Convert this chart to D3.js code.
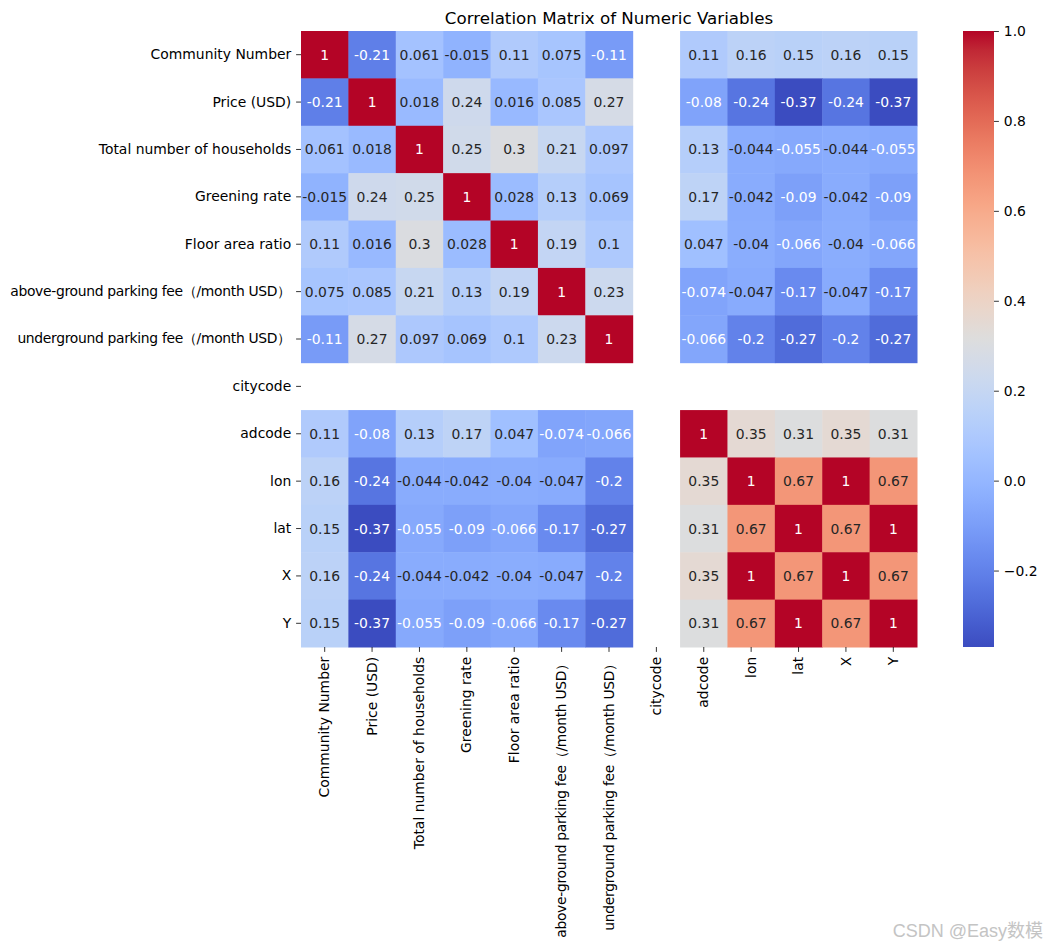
<!DOCTYPE html>
<html>
<head>
<meta charset="utf-8">
<script src="https://cdn.jsdelivr.net/npm/d3@7"></script>
<style>
  body { margin: 0; background: #fff; }
  svg { display: block; font-family: "DejaVu Sans", sans-serif; }
</style>
</head>
<body>
<svg id="chart" width="1047" height="948"></svg>
<script>
const variables = [
  "Community Number", "Price (USD)", "Total number of households", "Greening rate",
  "Floor area ratio", "above-ground parking fee（/month USD）", "underground parking fee（/month USD）",
  "citycode", "adcode", "lon", "lat", "X", "Y"
];
const N = null;
const correlations = [
  [1, -0.21, 0.061, -0.015, 0.11, 0.075, -0.11, N, 0.11, 0.16, 0.15, 0.16, 0.15],
  [-0.21, 1, 0.018, 0.24, 0.016, 0.085, 0.27, N, -0.08, -0.24, -0.37, -0.24, -0.37],
  [0.061, 0.018, 1, 0.25, 0.3, 0.21, 0.097, N, 0.13, -0.044, -0.055, -0.044, -0.055],
  [-0.015, 0.24, 0.25, 1, 0.028, 0.13, 0.069, N, 0.17, -0.042, -0.09, -0.042, -0.09],
  [0.11, 0.016, 0.3, 0.028, 1, 0.19, 0.1, N, 0.047, -0.04, -0.066, -0.04, -0.066],
  [0.075, 0.085, 0.21, 0.13, 0.19, 1, 0.23, N, -0.074, -0.047, -0.17, -0.047, -0.17],
  [-0.11, 0.27, 0.097, 0.069, 0.1, 0.23, 1, N, -0.066, -0.2, -0.27, -0.2, -0.27],
  [N, N, N, N, N, N, N, N, N, N, N, N, N],
  [0.11, -0.08, 0.13, 0.17, 0.047, -0.074, -0.066, N, 1, 0.35, 0.31, 0.35, 0.31],
  [0.16, -0.24, -0.044, -0.042, -0.04, -0.047, -0.2, N, 0.35, 1, 0.67, 1, 0.67],
  [0.15, -0.37, -0.055, -0.09, -0.066, -0.17, -0.27, N, 0.31, 0.67, 1, 0.67, 1],
  [0.16, -0.24, -0.044, -0.042, -0.04, -0.047, -0.2, N, 0.35, 1, 0.67, 1, 0.67],
  [0.15, -0.37, -0.055, -0.09, -0.066, -0.17, -0.27, N, 0.31, 0.67, 1, 0.67, 1]
];
const colorbarTicks = [-0.2, 0.0, 0.2, 0.4, 0.6, 0.8, 1.0];
const vmin = -0.37, vmax = 1;
const titleText = "Correlation Matrix of Numeric Variables";

// matplotlib coolwarm (Moreland) control points
const coolwarmStops = [
  [59,76,192],[68,90,204],[77,104,215],[87,117,225],[98,130,234],[108,142,241],[119,154,247],
  [130,165,251],[141,176,254],[152,185,255],[163,194,255],[174,201,253],[184,208,249],
  [194,213,244],[204,217,238],[213,219,230],[221,221,221],[229,216,209],[236,211,197],
  [241,204,184],[245,196,172],[247,187,159],[247,177,147],[247,166,134],[244,154,123],
  [241,141,112],[236,127,101],[229,112,90],[222,96,80],[213,80,71],[203,62,62],
  [192,40,53],[180,4,38]
].map(c => d3.rgb(c[0], c[1], c[2]).formatHex());
const coolwarm = d3.piecewise(d3.interpolateRgb, coolwarmStops);
const color = d3.scaleSequential(coolwarm).domain([vmin, vmax]).clamp(true);

const svg = d3.select("#chart");
const plotLeft = 301, plotTop = 31, plotSize = 616;
const x = d3.scaleBand().domain(d3.range(variables.length)).range([plotLeft, plotLeft + plotSize]);
const y = d3.scaleBand().domain(d3.range(variables.length)).range([plotTop, plotTop + plotSize]);

function luminance(c) {
  const rgb = d3.rgb(c);
  const f = v => { v /= 255; return v <= 0.03928 ? v / 12.92 : Math.pow((v + 0.055) / 1.055, 2.4); };
  return 0.2126 * f(rgb.r) + 0.7152 * f(rgb.g) + 0.0722 * f(rgb.b);
}

const cells = [];
correlations.forEach((row, i) => row.forEach((v, j) => { if (v !== null) cells.push({i, j, v}); }));

svg.append("g").selectAll("rect").data(cells).join("rect")
  .attr("x", d => x(d.j)).attr("y", d => y(d.i))
  .attr("width", x.bandwidth() + 0.5).attr("height", y.bandwidth() + 0.5)
  .attr("fill", d => color(d.v));

svg.append("g").selectAll("text").data(cells).join("text")
  .attr("x", d => x(d.j) + x.bandwidth() / 2)
  .attr("y", d => y(d.i) + y.bandwidth() / 2)
  .attr("dy", "0.36em")
  .attr("text-anchor", "middle")
  .attr("font-size", "13.9px")
  .attr("fill", d => luminance(color(d.v)) > 0.408 ? "#262626" : "#ffffff")
  .text(d => String(d.v));

// labels with full-width parentheses: tighten spacing so they keep the reference width
function tightenWide(sel) {
  sel.each(function(i) {
    const s = variables[i];
    if (!/[（）]/.test(s)) return;
    const natural = this.getComputedTextLength();
    d3.select(this).attr("textLength", natural - 11).attr("lengthAdjust", "spacing");
  });
}

// axes
const yAxis = d3.axisLeft(y).tickSize(4.9).tickPadding(4.9).tickFormat(i => variables[i]);
const gy = svg.append("g").attr("transform", `translate(${plotLeft},0)`).call(yAxis);
gy.select(".domain").remove();
gy.selectAll("text").attr("font-size", "13.9px").attr("fill", "#000").attr("font-family", "DejaVu Sans, sans-serif");
gy.selectAll("line").attr("stroke", "#000").attr("stroke-width", 0.8);
tightenWide(gy.selectAll(".tick text"));

const xAxis = d3.axisBottom(x).tickSize(4.9).tickPadding(4.9).tickFormat(i => variables[i]);
const gx = svg.append("g").attr("transform", `translate(0,${plotTop + plotSize})`).call(xAxis);
gx.select(".domain").remove();
gx.selectAll("line").attr("stroke", "#000").attr("stroke-width", 0.8);
gx.selectAll("text")
  .attr("font-size", "13.9px").attr("fill", "#000").attr("font-family", "DejaVu Sans, sans-serif")
  .attr("text-anchor", "end")
  .attr("transform", "rotate(-90)")
  .attr("x", -9.8).attr("y", 0).attr("dy", "0.33em");
tightenWide(gx.selectAll(".tick text"));

// title
svg.append("text")
  .attr("x", plotLeft + plotSize / 2).attr("y", 24)
  .attr("text-anchor", "middle")
  .attr("font-size", "16.7px")
  .attr("fill", "#000")
  .text(titleText);

// colorbar
const cbX = 963, cbW = 31;
const cy = d3.scaleLinear().domain([vmin, vmax]).range([plotTop + plotSize, plotTop]);
const defs = svg.append("defs");
const grad = defs.append("linearGradient").attr("id", "cbgrad")
  .attr("x1", 0).attr("y1", 1).attr("x2", 0).attr("y2", 0);
d3.range(0, 1.0001, 1 / 64).forEach(t => {
  grad.append("stop").attr("offset", t).attr("stop-color", coolwarm(t));
});
svg.append("rect").attr("x", cbX).attr("y", plotTop).attr("width", cbW).attr("height", plotSize)
  .attr("fill", "url(#cbgrad)");
const cAxis = d3.axisRight(cy).tickValues(colorbarTicks).tickSize(4.9).tickPadding(4.9)
  .tickFormat(d => d3.format(".1f")(d).replace("-", "\u2212"));
const gc = svg.append("g").attr("transform", `translate(${cbX + cbW},0)`).call(cAxis);
gc.select(".domain").remove();
gc.selectAll("line").attr("stroke", "#000").attr("stroke-width", 0.8);
gc.selectAll("text").attr("font-size", "13.9px").attr("fill", "#000").attr("font-family", "DejaVu Sans, sans-serif");

// watermark
svg.append("text")
  .attr("x", 1043).attr("y", 937)
  .attr("text-anchor", "end")
  .attr("font-size", "18px")
  .attr("font-family", "Liberation Sans, Noto Sans CJK SC, sans-serif")
  .attr("fill", "#c4c4c4")
  .text("CSDN @Easy数模");
</script>
</body>
</html>
